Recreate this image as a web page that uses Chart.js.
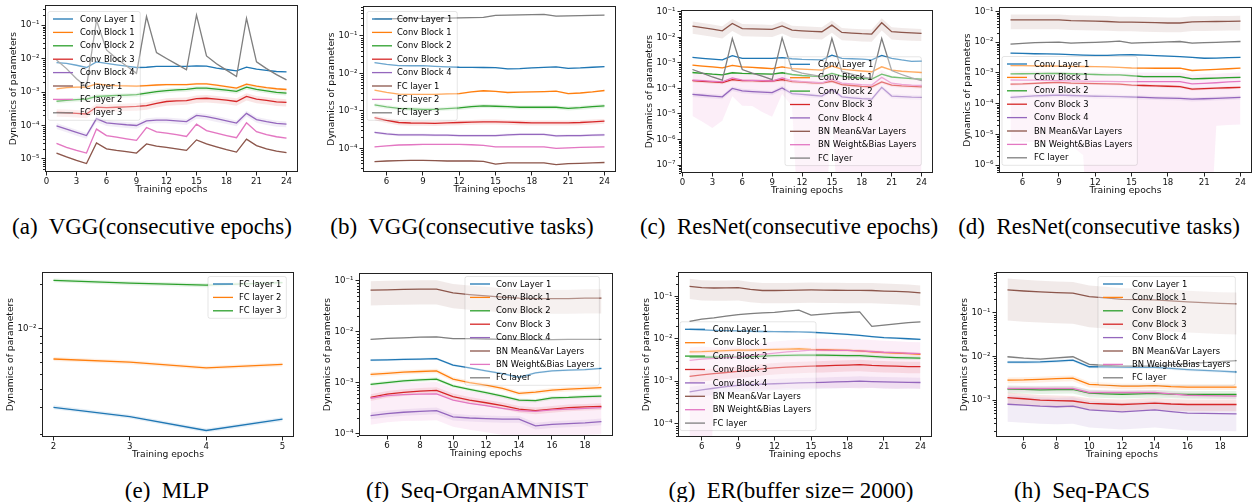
<!DOCTYPE html>
<html>
<head>
<meta charset="utf-8">
<script src="https://cdn.jsdelivr.net/npm/chart.js@4.4.1/dist/chart.umd.min.js"></script>
<style>
  body { margin: 0; background: #fff; width: 1253px; height: 502px; position: relative; overflow: hidden; }
  canvas { position: absolute; }
  .cap { position: absolute; font-family: "Liberation Serif", "Times New Roman", serif; font-size: 23px;
         line-height: 23px; white-space: pre; transform: translateX(-50%); color: #000; }
</style>
</head>
<body>
<script>
// ---- data ----
const namesVGG = ['Conv Layer 1', 'Conv Block 1', 'Conv Block 2', 'Conv Block 3', 'Conv Block 4', 'FC layer 1', 'FC layer 2', 'FC layer 3'];
const namesRes = ['Conv Layer 1', 'Conv Block 1', 'Conv Block 2', 'Conv Block 3', 'Conv Block 4', 'BN Mean&Var Layers', 'BN Weight&Bias Layers', 'FC layer'];
const namesMLP = ['FC layer 1', 'FC layer 2', 'FC layer 3'];

const epochs1to24 = [1,2,3,4,5,6,7,8,9,10,11,12,13,14,15,16,17,18,19,20,21,22,23,24];
const epochs5to24 = [5,6,7,8,9,10,11,12,13,14,15,16,17,18,19,20,21,22,23,24];
const epochs5to19 = [5,6,7,8,9,10,11,12,13,14,15,16,17,18,19];
const epochsMLP = [2,3,4,5];

const xTicks0to24 = [0,3,6,9,12,15,18,21,24];
const xTicks6to24 = [6,9,12,15,18,21,24];
const xTicks6to18 = [6,8,10,12,14,16,18];
const xTicksMLP = [2,3,4,5];

const yTicksA = [1e-5,1e-4,1e-3,1e-2,1e-1];
const yTicksB = [1e-4,1e-3,1e-2,1e-1];
const yTicksC = [1e-7,1e-6,1e-5,1e-4,1e-3,1e-2,1e-1];
const yTicksD = [1e-6,1e-5,1e-4,1e-3,1e-2,1e-1];
const yTicksE = [1e-2];
const yTicksF = [1e-4,1e-3,1e-2,1e-1];
const yTicksG = [1e-4,1e-3,1e-2,1e-1];
const yTicksH = [1e-3,1e-2,1e-1];

// (a) VGG, consecutive epochs
const valuesA = [
  [7.6e-3,7.2e-3,6.3e-3,5.4e-3,7.9e-3,7.2e-3,6.5e-3,5.9e-3,5.4e-3,5.5e-3,5.8e-3,5.8e-3,5.8e-3,5.8e-3,6.0e-3,5.9e-3,5.2e-3,4.7e-3,4.3e-3,5.5e-3,4.8e-3,4.4e-3,4.1e-3,4.0e-3],
  [1.24e-3,1.35e-3,1.4e-3,1.4e-3,1.75e-3,1.6e-3,1.55e-3,1.53e-3,1.5e-3,1.55e-3,1.62e-3,1.67e-3,1.67e-3,1.67e-3,1.75e-3,1.75e-3,1.6e-3,1.45e-3,1.3e-3,1.72e-3,1.5e-3,1.35e-3,1.25e-3,1.19e-3],
  [5.3e-4,5.6e-4,5.9e-4,6.1e-4,7.4e-4,7.6e-4,7.9e-4,8.1e-4,8.3e-4,9.2e-4,1.02e-3,1.1e-3,1.15e-3,1.2e-3,1.3e-3,1.3e-3,1.22e-3,1.13e-3,1.05e-3,1.4e-3,1.2e-3,1.08e-3,9.8e-4,9.3e-4],
  [2.45e-4,2.4e-4,2.3e-4,2.2e-4,3.55e-4,3.4e-4,3.5e-4,3.6e-4,3.7e-4,3.9e-4,4.6e-4,5.2e-4,5.4e-4,5.5e-4,6.3e-4,6.5e-4,6.1e-4,5.7e-4,5.2e-4,7.4e-4,6.1e-4,5.6e-4,5.1e-4,4.9e-4],
  [9.8e-5,7.8e-5,6.2e-5,5e-5,1.6e-4,1.2e-4,1.12e-4,1.05e-4,1e-4,1.38e-4,1.45e-4,1.45e-4,1.38e-4,1.3e-4,2.0e-4,1.85e-4,1.6e-4,1.38e-4,1.18e-4,2.3e-4,1.5e-4,1.3e-4,1.15e-4,1.1e-4],
  [1.5e-5,1.15e-5,9e-6,7.3e-6,3e-5,2e-5,1.8e-5,1.65e-5,1.5e-5,2.8e-5,2.4e-5,2.2e-5,2e-5,1.8e-5,3.7e-5,2.8e-5,2.3e-5,1.9e-5,1.6e-5,3.9e-5,2.5e-5,2e-5,1.7e-5,1.55e-5],
  [2.9e-5,2.2e-5,1.8e-5,1.5e-5,7.8e-5,5e-5,4.5e-5,4e-5,3.6e-5,8.7e-5,6.4e-5,5.9e-5,5.3e-5,4.7e-5,1.1e-4,7e-5,5.9e-5,5e-5,4.3e-5,1.2e-4,6.5e-5,5.3e-5,4.6e-5,4.2e-5],
  [9e-3,5e-3,2.5e-3,1.4e-3,0.14,1.8e-2,1e-2,6e-3,3.6e-3,0.18,1.5e-2,1e-2,6.8e-3,4.6e-3,0.2,1.2e-2,7e-3,4.5e-3,2.9e-3,0.16,8e-3,5e-3,3.3e-3,2.3e-3]
];
// relative std (shaded band = mean +- sd*mean)
const sdA = [0.03, 0.08, 0.15, 0.25, 0.2, 0.05, 0.06, 0.05];

// (b) VGG, consecutive tasks
const valuesB = [
  [1.94e-2,1.75e-2,1.62e-2,1.6e-2,1.62e-2,1.55e-2,1.5e-2,1.46e-2,1.45e-2,1.44e-2,1.42e-2,1.33e-2,1.35e-2,1.4e-2,1.45e-2,1.5e-2,1.37e-2,1.4e-2,1.46e-2,1.52e-2],
  [3.6e-3,3.1e-3,2.8e-3,2.75e-3,2.75e-3,2.75e-3,2.85e-3,2.9e-3,3.2e-3,3.45e-3,3.3e-3,3.1e-3,3.15e-3,3.2e-3,3.25e-3,3.35e-3,2.9e-3,3.0e-3,3.2e-3,3.5e-3],
  [1.44e-3,1.28e-3,1.17e-3,1.13e-3,1.1e-3,1.1e-3,1.15e-3,1.2e-3,1.3e-3,1.36e-3,1.33e-3,1.3e-3,1.25e-3,1.25e-3,1.25e-3,1.25e-3,1.17e-3,1.22e-3,1.3e-3,1.36e-3],
  [6.6e-4,5.6e-4,4.9e-4,4.75e-4,4.7e-4,4.65e-4,4.8e-4,4.9e-4,5.0e-4,5.1e-4,5.1e-4,5.0e-4,4.9e-4,4.8e-4,4.8e-4,4.8e-4,4.8e-4,4.9e-4,5.1e-4,5.3e-4],
  [2.67e-4,2.45e-4,2.3e-4,2.3e-4,2.3e-4,2.25e-4,2.25e-4,2.2e-4,2.2e-4,2.2e-4,2.2e-4,2.3e-4,2.35e-4,2.35e-4,2.35e-4,2.15e-4,2.2e-4,2.2e-4,2.25e-4,2.3e-4],
  [4.4e-5,4.6e-5,4.7e-5,4.8e-5,4.8e-5,4.7e-5,4.6e-5,4.6e-5,4.6e-5,4.5e-5,3.8e-5,4.1e-5,4.1e-5,4.1e-5,4.1e-5,3.7e-5,3.9e-5,4.0e-5,4.1e-5,4.2e-5],
  [1.1e-4,1.17e-4,1.23e-4,1.25e-4,1.27e-4,1.27e-4,1.27e-4,1.27e-4,1.25e-4,1.2e-4,1.1e-4,1.1e-4,1.1e-4,1.1e-4,1.1e-4,1.0e-4,1.03e-4,1.06e-4,1.08e-4,1.1e-4],
  [0.284,0.285,0.29,0.295,0.295,0.3,0.3,0.305,0.31,0.315,0.355,0.36,0.365,0.37,0.375,0.34,0.345,0.35,0.355,0.36]
];
const sdB = [0.04, 0.05, 0.12, 0.15, 0.08, 0.03, 0.04, 0.03];

// (c) ResNet, consecutive epochs
const valuesC = [
  [1.63e-3,1.5e-3,1.4e-3,1.3e-3,1.9e-3,1.5e-3,1.5e-3,1.5e-3,1.5e-3,1.6e-3,1.45e-3,1.37e-3,1.33e-3,1.3e-3,2.0e-3,1.5e-3,1.45e-3,1.4e-3,1.3e-3,1.95e-3,1.5e-3,1.3e-3,1.15e-3,1.17e-3],
  [8.2e-4,7.5e-4,6.9e-4,6.4e-4,8e-4,7e-4,6.7e-4,6.3e-4,6e-4,7e-4,6e-4,5.7e-4,5.4e-4,5.2e-4,7.5e-4,5.7e-4,5.2e-4,4.8e-4,4.5e-4,7e-4,5.2e-4,4.7e-4,4.4e-4,4.2e-4],
  [4.2e-4,3.9e-4,3.6e-4,3.4e-4,4.1e-4,3.9e-4,3.8e-4,3.7e-4,3.6e-4,4.1e-4,3.5e-4,3.2e-4,3e-4,2.9e-4,3.9e-4,3e-4,2.7e-4,2.5e-4,2.3e-4,3.6e-4,2.8e-4,2.6e-4,2.4e-4,2.3e-4],
  [2.0e-4,1.9e-4,1.8e-4,1.7e-4,2.2e-4,2.0e-4,2.0e-4,1.95e-4,1.95e-4,2.2e-4,1.85e-4,1.75e-4,1.65e-4,1.6e-4,1.9e-4,1.4e-4,1.3e-4,1.2e-4,1.15e-4,1.8e-4,1.35e-4,1.25e-4,1.2e-4,1.15e-4],
  [5.8e-5,5.4e-5,5e-5,4.7e-5,1e-4,8e-5,7.5e-5,7.1e-5,6.8e-5,1.05e-4,6.3e-5,5.8e-5,5.4e-5,5e-5,9e-5,4.7e-5,4.3e-5,4e-5,3.8e-5,1.1e-4,5e-5,4.8e-5,4.6e-5,4.5e-5],
  [2.75e-2,2.4e-2,2.1e-2,1.8e-2,3.5e-2,2.2e-2,2.15e-2,2.1e-2,2.04e-2,2.8e-2,1.9e-2,1.8e-2,1.72e-2,1.65e-2,3.0e-2,1.55e-2,1.45e-2,1.38e-2,1.34e-2,3.7e-2,1.65e-2,1.55e-2,1.48e-2,1.42e-2],
  [2.1e-4,2e-4,1.9e-4,1.8e-4,2.6e-4,2.1e-4,2.05e-4,2e-4,1.95e-4,2.6e-4,2e-4,1.85e-4,1.75e-4,1.65e-4,2.3e-4,1.6e-4,1.5e-4,1.4e-4,1.35e-4,2.7e-4,1.6e-4,1.45e-4,1.35e-4,1.3e-4],
  [5.5e-4,4e-4,2.8e-4,2.1e-4,9e-3,5.5e-4,4e-4,3e-4,2.2e-4,9.5e-3,5.2e-4,4e-4,3.4e-4,2.9e-4,9e-3,4.5e-4,3.6e-4,2.9e-4,2.4e-4,9e-3,5e-4,3.5e-4,2.6e-4,2e-4]
];
const pinkSdC = [0.96,0.975,0.985,0.97,0.81,0.9,0.9,0.94,0.96,0.77,0.9,1,1,1,0.91,1,1,1,1,1,1,1,1,1];
const sdC = [0.05, 0.08, 0.08, 0.15, 0.2, 0.5, pinkSdC, 0.05];

// (d) ResNet, consecutive tasks
const valuesD = [
  [4.4e-3,4.3e-3,4.2e-3,4.15e-3,4.1e-3,3.95e-3,3.8e-3,3.7e-3,3.75e-3,3.85e-3,3.9e-3,3.8e-3,3.65e-3,3.5e-3,3.4e-3,3.2e-3,3.0e-3,3.05e-3,3.15e-3,3.2e-3],
  [1.74e-3,1.72e-3,1.7e-3,1.68e-3,1.66e-3,1.63e-3,1.62e-3,1.6e-3,1.57e-3,1.52e-3,1.45e-3,1.43e-3,1.42e-3,1.42e-3,1.43e-3,1.2e-3,1.25e-3,1.3e-3,1.37e-3,1.43e-3],
  [9.3e-4,9.4e-4,9.5e-4,9.6e-4,9.7e-4,9.4e-4,9.1e-4,8.9e-4,8.7e-4,8.6e-4,8.1e-4,7.6e-4,7.6e-4,7.6e-4,7.6e-4,6.4e-4,6.6e-4,6.8e-4,7e-4,7.2e-4],
  [4.3e-4,4.4e-4,4.6e-4,4.8e-4,4.9e-4,4.7e-4,4.6e-4,4.5e-4,4.4e-4,4.3e-4,4.0e-4,3.9e-4,3.8e-4,3.7e-4,3.6e-4,3.0e-4,3.1e-4,3.2e-4,3.3e-4,3.4e-4],
  [1.6e-4,1.7e-4,1.8e-4,1.85e-4,1.9e-4,1.85e-4,1.8e-4,1.75e-4,1.72e-4,1.7e-4,1.65e-4,1.6e-4,1.55e-4,1.52e-4,1.5e-4,1.4e-4,1.45e-4,1.5e-4,1.55e-4,1.6e-4],
  [5.3e-2,5.3e-2,5.3e-2,5.3e-2,5.3e-2,5e-2,4.9e-2,4.8e-2,4.7e-2,4.5e-2,4.5e-2,4.4e-2,4.3e-2,4.2e-2,4.2e-2,4.6e-2,4.65e-2,4.7e-2,4.75e-2,4.8e-2],
  [5.9e-4,5.8e-4,5.8e-4,5.7e-4,5.6e-4,5.5e-4,5.4e-4,5.3e-4,5.3e-4,5.2e-4,5.2e-4,5.2e-4,5.2e-4,5.2e-4,5.2e-4,4.4e-4,4.6e-4,4.8e-4,5.1e-4,5.3e-4],
  [8.6e-3,9.2e-3,9.6e-3,9.9e-3,1.0e-2,9.3e-3,9.6e-3,9.9e-3,1.03e-2,1.08e-2,9.3e-3,9.6e-3,9.9e-3,1.02e-2,1.05e-2,9.3e-3,9.6e-3,9.9e-3,1.02e-2,1.05e-2]
];
const pinkSdD = [0.99,0.99,0.99,0.99,0.99,0.992,0.996,1,1,1,1,1,1,1,1,1,1,0.96,0.96,0.96];
const sdD = [0.05, 0.05, 0.08, 0.1, 0.15, 0.5, pinkSdD, 0.05];

// (e) MLP
const valuesE = [
  [3.0e-3,2.6e-3,2.1e-3,2.5e-3],
  [6.3e-3,6.0e-3,5.5e-3,5.8e-3],
  [2.11e-2,2.02e-2,1.96e-2,2.04e-2]
];
const sdE = [0.03, 0.03, 0.03];

// (f) Seq-OrganAMNIST
const valuesF = [
  [2.76e-3,2.8e-3,2.85e-3,2.9e-3,2.95e-3,2.2e-3,1.95e-3,1.7e-3,1.5e-3,1.26e-3,1.55e-3,1.7e-3,1.75e-3,1.8e-3,1.9e-3],
  [1.45e-3,1.52e-3,1.6e-3,1.65e-3,1.7e-3,1.17e-3,1.0e-3,8.9e-4,7.7e-4,6.1e-4,6.5e-4,7.1e-4,7.4e-4,7.7e-4,7.9e-4],
  [9.2e-4,1.0e-3,1.08e-3,1.13e-3,1.17e-3,8.6e-4,7.3e-4,6.3e-4,5.4e-4,4.5e-4,4.4e-4,5e-4,5.1e-4,5.3e-4,5.4e-4],
  [5.1e-4,5.9e-4,6.4e-4,6.8e-4,7e-4,5.3e-4,4.5e-4,4e-4,3.5e-4,3e-4,2.8e-4,3e-4,3.2e-4,3.3e-4,3.4e-4],
  [2.23e-4,2.45e-4,2.6e-4,2.7e-4,2.8e-4,2.1e-4,2.0e-4,1.95e-4,1.9e-4,1.9e-4,1.4e-4,1.5e-4,1.55e-4,1.6e-4,1.7e-4],
  [6.6e-2,6.7e-2,6.8e-2,6.9e-2,6.9e-2,5.8e-2,5.4e-2,5.1e-2,4.8e-2,4.6e-2,4.5e-2,4.5e-2,4.5e-2,4.6e-2,4.6e-2],
  [4.9e-4,5.5e-4,5.8e-4,5.9e-4,6e-4,4.5e-4,3.9e-4,3.5e-4,3.1e-4,2.8e-4,2.7e-4,2.9e-4,3.0e-4,3.1e-4,3.2e-4],
  [7.1e-3,7.4e-3,7.6e-3,7.8e-3,7.9e-3,7.3e-3,7.3e-3,7.2e-3,7.1e-3,7.0e-3,7.0e-3,7.0e-3,7.1e-3,7.1e-3,7.1e-3]
];
const sdF = [0.05, 0.1, 0.08, 0.15, 0.15, 0.5, 0.7, 0.03];

// (g) ER, buffer size 2000
const valuesG = [
  [1.67e-2,1.62e-2,1.58e-2,1.55e-2,1.53e-2,1.5e-2,1.48e-2,1.47e-2,1.46e-2,1.45e-2,1.42e-2,1.37e-2,1.32e-2,1.26e-2,1.2e-2,1.12e-2,1.06e-2,1.03e-2,1.0e-2,9.7e-3],
  [4.9e-3,4.95e-3,5.1e-3,5.25e-3,5.4e-3,5.4e-3,5.5e-3,5.6e-3,5.7e-3,5.8e-3,5.6e-3,5.5e-3,5.4e-3,5.3e-3,5.2e-3,4.9e-3,4.7e-3,4.6e-3,4.45e-3,4.3e-3],
  [3.7e-3,3.7e-3,3.7e-3,3.7e-3,3.7e-3,3.8e-3,3.9e-3,4.0e-3,4.05e-3,4.1e-3,4.1e-3,4.1e-3,4.05e-3,4.0e-3,4.0e-3,3.85e-3,3.7e-3,3.6e-3,3.55e-3,3.5e-3],
  [1.3e-3,1.4e-3,1.5e-3,1.6e-3,1.7e-3,1.8e-3,1.95e-3,2.05e-3,2.15e-3,2.2e-3,2.25e-3,2.3e-3,2.35e-3,2.4e-3,2.45e-3,2.35e-3,2.3e-3,2.25e-3,2.2e-3,2.2e-3],
  [5.6e-4,6.2e-4,6.8e-4,7.4e-4,8e-4,8.3e-4,8.5e-4,8.7e-4,8.9e-4,9.1e-4,9.2e-4,9.4e-4,9.6e-4,9.8e-4,1e-3,9.8e-4,9.6e-4,9.5e-4,9.4e-4,9.3e-4],
  [0.172,0.16,0.157,0.158,0.16,0.145,0.137,0.137,0.138,0.14,0.141,0.14,0.139,0.138,0.138,0.137,0.133,0.13,0.127,0.12],
  [3.1e-3,3.3e-3,3.45e-3,3.6e-3,3.7e-3,4.0e-3,4.3e-3,4.6e-3,4.9e-3,5.1e-3,5.4e-3,5.4e-3,5.3e-3,5.3e-3,5.2e-3,5.0e-3,4.8e-3,4.7e-3,4.55e-3,4.45e-3],
  [2.58e-2,2.9e-2,3.1e-2,3.4e-2,3.7e-2,3.9e-2,4.05e-2,4.2e-2,4.45e-2,4.7e-2,3.6e-2,3.8e-2,4.0e-2,4.15e-2,4.3e-2,1.96e-2,2.1e-2,2.25e-2,2.4e-2,2.5e-2]
];
const pinkSdG = [1,1,0.8,0.81,0.82,0.84,0.85,0.86,0.86,0.87,0.87,0.87,0.87,0.87,0.87,0.86,0.86,0.86,0.85,0.85];
const sdG = [0.05, 0.1, 0.1, 0.3, 0.3, 0.5, pinkSdG, 0.03];

// (h) Seq-PACS
const valuesH = [
  [7.4e-3,7.4e-3,7.5e-3,7.8e-3,8.2e-3,5.8e-3,5.75e-3,5.7e-3,5.65e-3,5.6e-3,5.3e-3,5.0e-3,4.8e-3,4.6e-3,4.4e-3],
  [2.87e-3,2.9e-3,3.0e-3,3.1e-3,3.2e-3,2.3e-3,2.2e-3,2.1e-3,2.1e-3,2.15e-3,2.05e-3,2.0e-3,2.0e-3,2.0e-3,2.0e-3],
  [1.8e-3,1.77e-3,1.73e-3,1.75e-3,1.77e-3,1.45e-3,1.4e-3,1.37e-3,1.4e-3,1.43e-3,1.38e-3,1.35e-3,1.35e-3,1.35e-3,1.35e-3],
  [1.15e-3,1.08e-3,1.01e-3,9.8e-4,9.6e-4,8.5e-4,8.2e-4,8.0e-4,8.3e-4,8.6e-4,8.2e-4,8.0e-4,8.0e-4,8.0e-4,8.0e-4],
  [8.1e-4,7.7e-4,7.3e-4,7.1e-4,7.3e-4,6e-4,5.7e-4,5.4e-4,5.7e-4,6e-4,5.5e-4,5.1e-4,5.0e-4,4.95e-4,4.9e-4],
  [0.33,0.31,0.295,0.285,0.277,0.23,0.215,0.2,0.197,0.195,0.185,0.175,0.168,0.162,0.158],
  [1.85e-3,1.85e-3,1.85e-3,1.85e-3,1.85e-3,1.5e-3,1.5e-3,1.5e-3,1.5e-3,1.5e-3,1.4e-3,1.3e-3,1.28e-3,1.26e-3,1.24e-3],
  [9.8e-3,9.1e-3,8.7e-3,9.2e-3,9.8e-3,6.6e-3,6.2e-3,6.0e-3,6.0e-3,6.0e-3,6.4e-3,6.8e-3,7.2e-3,7.6e-3,8.0e-3]
];
const sdH = [0.08, 0.15, 0.2, 0.3, 0.6, 0.8, 0.15, 0.05];

const captions = [
  ['(a)  VGG(consecutive epochs)', 152, 226], ['(b)  VGG(consecutive tasks)', 462, 226],
  ['(c)  ResNet(consecutive epochs)', 789, 226], ['(d)  ResNet(consecutive tasks)', 1099, 226],
  ['(e)  MLP', 167, 490], ['(f)  Seq-OrganAMNIST', 477, 490],
  ['(g)  ER(buffer size= 2000)', 791, 490], ['(h)  Seq-PACS', 1082, 490]
];

// ---- drawing ----
const tab10 = ['#1f77b4', '#ff7f0e', '#2ca02c', '#d62728', '#9467bd', '#8c564b', '#e377c2', '#7f7f7f'];
const FONT = 'DejaVu Sans';
Chart.defaults.font.family = FONT;
Chart.defaults.color = '#000';

const supMap = {'-': '\u207B', '0': '\u2070', '1': '\u00B9', '2': '\u00B2', '3': '\u00B3', '4': '\u2074', '5': '\u2075', '6': '\u2076', '7': '\u2077', '8': '\u2078', '9': '\u2079'};
function powLabel(v) {
  const e = Math.round(Math.log10(v));
  return '10' + String(e).split('').map(c => supMap[c]).join('');
}
function rgba(hex, a) {
  const n = parseInt(hex.slice(1), 16);
  return `rgba(${n >> 16},${(n >> 8) & 255},${n & 255},${a})`;
}

// matplotlib-like frame, minor log ticks and in-axes legend
const mplPlugin = {
  id: 'mpl',
  afterDatasetsDraw(chart) {
    const { ctx, chartArea: a } = chart;
    const ys = chart.scales.y;
    ctx.save();
    ctx.strokeStyle = '#222';
    ctx.lineWidth = 1;
    ctx.beginPath();
    const e0 = Math.floor(Math.log10(ys.min)), e1 = Math.ceil(Math.log10(ys.max));
    for (let e = e0; e <= e1; e++) {
      for (let m = 2; m <= 9; m++) {
        const v = m * Math.pow(10, e);
        if (v < ys.min || v > ys.max) continue;
        const py = Math.round(ys.getPixelForValue(v)) + 0.5;
        ctx.moveTo(a.left - 2, py);
        ctx.lineTo(a.left, py);
      }
    }
    ctx.stroke();
    ctx.strokeRect(Math.round(a.left) + 0.5, Math.round(a.top) + 0.5,
      Math.round(a.right - a.left) - 1, Math.round(a.bottom - a.top) - 1);
    ctx.restore();
  },
  afterDraw(chart, args, opts) {
    const L = opts.legend;
    if (!L) return;
    const { ctx } = chart;
    const step = 13.4;
    const hx = L.hx - opts.cl, tx = L.tx - opts.cl, y0 = L.y0 - opts.ct;
    ctx.save();
    ctx.font = `8.4px "${FONT}"`;
    let w = 0;
    L.names.forEach(n => { w = Math.max(w, ctx.measureText(n).width); });
    const fx = hx - 5, fy = y0 - 7.5, fw = tx + w + 5 - fx, fh = (L.names.length - 1) * step + 15;
    ctx.beginPath();
    ctx.roundRect(fx, fy, fw, fh, 2);
    ctx.fillStyle = 'rgba(255,255,255,' + L.alpha + ')';
    ctx.fill();
    ctx.strokeStyle = 'rgba(0,0,0,0.1)';
    ctx.lineWidth = 1;
    ctx.stroke();
    L.names.forEach((n, i) => {
      const y = y0 + i * step;
      ctx.strokeStyle = tab10[i];
      ctx.lineWidth = 1.3;
      ctx.beginPath();
      ctx.moveTo(hx, y);
      ctx.lineTo(hx + 20, y);
      ctx.stroke();
      ctx.fillStyle = '#000';
      ctx.textBaseline = 'middle';
      ctx.fillText(n, tx, y + 0.5);
    });
    ctx.restore();
  }
};

function makeChart(c) {
  const W = 42, H = 24, PT = 10, PR = 6;
  const [bl, bt, br, bb] = c.box;
  const cl = bl - W, ct = bt - PT;
  const cw = Math.round(br - bl + W + PR), ch = Math.round(bb - bt + PT + H);
  const canvas = document.createElement('canvas');
  canvas.width = cw; canvas.height = ch;
  canvas.style.left = cl + 'px'; canvas.style.top = ct + 'px';
  canvas.style.width = cw + 'px'; canvas.style.height = ch + 'px';
  document.body.appendChild(canvas);

  const datasets = [];
  const n = c.values.length;
  c.values.forEach((vals, i) => {
    const sd = c.sd[i];
    const sdAt = j => Array.isArray(sd) ? sd[j] : sd;
    datasets.push({
      data: vals.map((v, j) => ({ x: c.xs[j], y: v * (1 + sdAt(j)) })),
      borderWidth: 0, pointRadius: 0, fill: false, order: 1000 + n - i
    });
    datasets.push({
      data: vals.map((v, j) => ({ x: c.xs[j], y: Math.max(v * (1 - sdAt(j)), 1e-12) })),
      borderWidth: 0, pointRadius: 0, fill: '-1', backgroundColor: rgba(tab10[i], 0.12),
      order: 1000 + n - i
    });
  });
  c.values.forEach((vals, i) => {
    datasets.push({
      label: c.names[i],
      data: vals.map((v, j) => ({ x: c.xs[j], y: v })),
      borderColor: tab10[i], borderWidth: 1.3, pointRadius: 0, fill: false,
      tension: 0, order: n - i
    });
  });

  const tickFont = { family: FONT, size: 8.6 };
  const titleFont = { family: FONT, size: 9.2 };
  new Chart(canvas, {
    type: 'line',
    data: { datasets },
    plugins: [mplPlugin],
    options: {
      responsive: false, animation: false, devicePixelRatio: 1,
      layout: { padding: { top: PT, right: PR, left: 0, bottom: 0 } },
      plugins: {
        legend: { display: false }, tooltip: { enabled: false },
        mpl: { legend: c.legend, cl, ct }
      },
      scales: {
        x: {
          type: 'linear', min: c.xmin, max: c.xmax, bounds: 'data',
          afterBuildTicks: s => { s.ticks = c.xticks.map(v => ({ value: v })); },
          afterFit: s => { s.height = H; },
          ticks: { font: tickFont, color: '#111', padding: 1, autoSkip: false, maxRotation: 0,
                   callback: v => String(v) },
          grid: { display: true, drawOnChartArea: false, drawTicks: true, tickLength: 3.5,
                  color: '#222', lineWidth: 1 },
          border: { display: false },
          title: { display: true, text: 'Training epochs', font: titleFont, color: '#111',
                   padding: { top: 0, bottom: 0.4 } }
        },
        y: {
          type: 'logarithmic', min: c.ymin, max: c.ymax, bounds: 'data',
          afterBuildTicks: s => { s.ticks = c.yticks.map(v => ({ value: v, major: true })); },
          afterFit: s => { s.width = W; },
          ticks: { font: tickFont, color: '#111', padding: 2, autoSkip: false,
                   callback: v => powLabel(v) },
          grid: { display: true, drawOnChartArea: false, drawTicks: true, tickLength: 3.5,
                  color: '#222', lineWidth: 1 },
          border: { display: false },
          title: { display: true, text: 'Dynamics of parameters', font: titleFont, color: '#111',
                   padding: { top: 5.2, bottom: 0 } }
        }
      }
    }
  });
}

const legendAlpha = 0.35;
makeChart({ box: [45, 5, 298, 172], xs: epochs1to24, xmin: -0.15, xmax: 25.15, xticks: xTicks0to24,
  ymin: 4.07e-6, ymax: 0.398, yticks: yTicksA, names: namesVGG, values: valuesA, sd: sdA,
  legend: { hx: 53, tx: 80, y0: 19, names: namesVGG, alpha: legendAlpha } });
makeChart({ box: [363, 6, 616, 172], xs: epochs5to24, xmin: 4.05, xmax: 24.95, xticks: xTicks6to24,
  ymin: 2.34e-5, ymax: 0.63, yticks: yTicksB, names: namesVGG, values: valuesB, sd: sdB,
  legend: { hx: 372, tx: 397, y0: 19, names: namesVGG, alpha: legendAlpha } });
makeChart({ box: [681, 10, 933, 173], xs: epochs1to24, xmin: -0.15, xmax: 25.15, xticks: xTicks0to24,
  ymin: 4.9e-8, ymax: 0.117, yticks: yTicksC, names: namesRes, values: valuesC, sd: sdC,
  legend: { hx: 790, tx: 818, y0: 64.3, names: namesRes, alpha: legendAlpha } });
makeChart({ box: [999, 7, 1252, 173], xs: epochs5to24, xmin: 4.05, xmax: 24.95, xticks: xTicks6to24,
  ymin: 5.6e-7, ymax: 0.139, yticks: yTicksD, names: namesRes, values: valuesD, sd: sdD,
  legend: { hx: 1007, tx: 1034, y0: 64, names: namesRes, alpha: legendAlpha } });
makeChart({ box: [42, 272, 294, 437], xs: epochsMLP, xmin: 1.85, xmax: 5.15, xticks: xTicksMLP,
  ymin: 1.9e-3, ymax: 2.4e-2, yticks: yTicksE, names: namesMLP, values: valuesE, sd: sdE,
  legend: { hx: 213, tx: 239, y0: 284, names: namesMLP, alpha: 0.8 } });
makeChart({ box: [359, 273, 613, 436], xs: epochs5to19, xmin: 4.3, xmax: 19.7, xticks: xTicks6to18,
  ymin: 8.85e-5, ymax: 0.1435, yticks: yTicksF, names: namesRes, values: valuesF, sd: sdF,
  legend: { hx: 470, tx: 496, y0: 284, names: namesRes, alpha: legendAlpha } });
makeChart({ box: [678, 272, 932, 437], xs: epochs5to24, xmin: 4.05, xmax: 24.95, xticks: xTicks6to24,
  ymin: 4.83e-5, ymax: 0.374, yticks: yTicksG, names: namesRes, values: valuesG, sd: sdG,
  legend: { hx: 685, tx: 712.7, y0: 329.3, names: namesRes, alpha: legendAlpha } });
makeChart({ box: [996, 272, 1248, 437], xs: epochs5to19, xmin: 4.3, xmax: 19.7, xticks: xTicks6to18,
  ymin: 1.45e-4, ymax: 0.84, yticks: yTicksH, names: namesRes, values: valuesH, sd: sdH,
  legend: { hx: 1103, tx: 1132, y0: 284, names: namesRes, alpha: legendAlpha } });

captions.forEach(([text, cx, cy]) => {
  const d = document.createElement('div');
  d.className = 'cap';
  d.textContent = text;
  d.style.left = cx + 'px';
  d.style.top = (cy - 11.5) + 'px';
  document.body.appendChild(d);
});
</script>
</body>
</html>
